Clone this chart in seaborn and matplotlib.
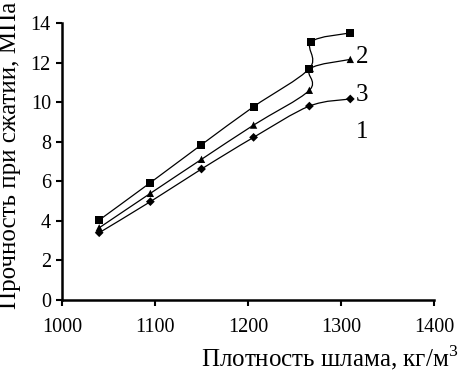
import numpy as np
import pandas as pd
import matplotlib
matplotlib.use("Agg")
import matplotlib.pyplot as plt
from matplotlib.path import Path
from matplotlib.patches import PathPatch
import seaborn as sns

# ---- data ----
x_sq = [1040, 1095, 1150, 1206, 1266, 1268, 1310]
y_sq = [4.04, 5.93, 7.85, 9.77, 11.70, 13.05, 13.50]
x_tr = [1040, 1095, 1150, 1206, 1266, 1267, 1310]
y_tr = [3.65, 5.39, 7.11, 8.84, 10.60, 11.70, 12.16]
x_di = [1040, 1095, 1150, 1206, 1266, 1310]
y_di = [3.40, 4.97, 6.62, 8.22, 9.80, 10.16]

curve_labels = ["2", "3", "1"]
label_x = [1323, 1323, 1323]
label_y = [12.28, 10.36, 8.51]

x_ticks = [1000, 1100, 1200, 1300, 1400]
y_ticks = [0, 2, 4, 6, 8, 10, 12, 14]
x_title = "Плотность шлама, кг/м$^3$"
y_title = "Прочность при сжатии, МПа"

sns.set_theme(style="ticks")
plt.rcParams["font.family"] = ["Liberation Serif", "DejaVu Serif"]
plt.rcParams["mathtext.fontset"] = "custom"
plt.rcParams["mathtext.rm"] = "Liberation Serif"

fig = plt.figure(figsize=(4.64, 3.71), dpi=100)
ax = fig.add_axes([62 / 464, 1 - 300 / 371, (434 - 62) / 464, (300 - 23) / 371])


def smooth_path(xs, ys, t=1 / 6):
    pts = np.column_stack([xs, ys]).astype(float)
    n = len(pts)
    verts = [pts[0]]
    codes = [Path.MOVETO]
    for i in range(n - 1):
        p0 = pts[i - 1] if i > 0 else pts[i]
        p1 = pts[i]
        p2 = pts[i + 1]
        p3 = pts[i + 2] if i + 2 < n else pts[i + 1]
        c1 = p1 + (p2 - p0) * t
        c2 = p2 - (p3 - p1) * t
        verts += [c1, c2, p2]
        codes += [Path.CURVE4] * 3
    return Path(verts, codes)


for xs, ys in [(x_sq, y_sq), (x_tr, y_tr), (x_di, y_di)]:
    ax.add_patch(PathPatch(smooth_path(xs, ys), facecolor="none",
                           edgecolor="black", lw=0.9, zorder=2))

df = pd.concat([
    pd.DataFrame({"x": x_tr, "y": y_tr, "s": "tr"}),
    pd.DataFrame({"x": x_di, "y": y_di, "s": "di"}),
])
sns.scatterplot(data=df, x="x", y="y", style="s", markers={"tr": "^", "di": "D"},
                hue="s", palette={"tr": "black", "di": "black"},
                size="s", sizes={"tr": 28, "di": 20},
                edgecolor="black", linewidth=0, legend=False, ax=ax, zorder=3)
sns.scatterplot(x=x_sq, y=y_sq, marker="s", color="black", s=36,
                edgecolor="black", linewidth=0, legend=False, ax=ax, zorder=4)

for lab, lx, ly in zip(curve_labels, label_x, label_y):
    ax.text(lx, ly, lab, fontsize=18, ha="center", va="center", color="black")

ax.set_xlim(1000, 1400)
ax.set_ylim(0, 14)
ax.set_xticks(x_ticks)
ax.set_yticks(y_ticks)
ax.tick_params(axis="both", labelsize=14.5, direction="out", length=4,
               width=1.5, color="black", labelcolor="black")
ax.tick_params(axis="x", pad=9)
ax.tick_params(axis="y", pad=4)
for s in ["top", "right"]:
    ax.spines[s].set_visible(False)
for s in ["left", "bottom"]:
    ax.spines[s].set_linewidth(1.8)
    ax.spines[s].set_color("black")

ax.set_xlabel(x_title, fontsize=18, color="black")
ax.set_ylabel(y_title, fontsize=18, color="black")
ax.xaxis.set_label_coords((330 - 62) / 372, -(343 - 300) / 277)
ax.yaxis.set_label_coords(-(62 - 21) / 372, (300 - 155) / 277)
ax.set_facecolor("white")
fig.patch.set_facecolor("white")

fig.savefig("out.png", dpi=100, facecolor="white")
